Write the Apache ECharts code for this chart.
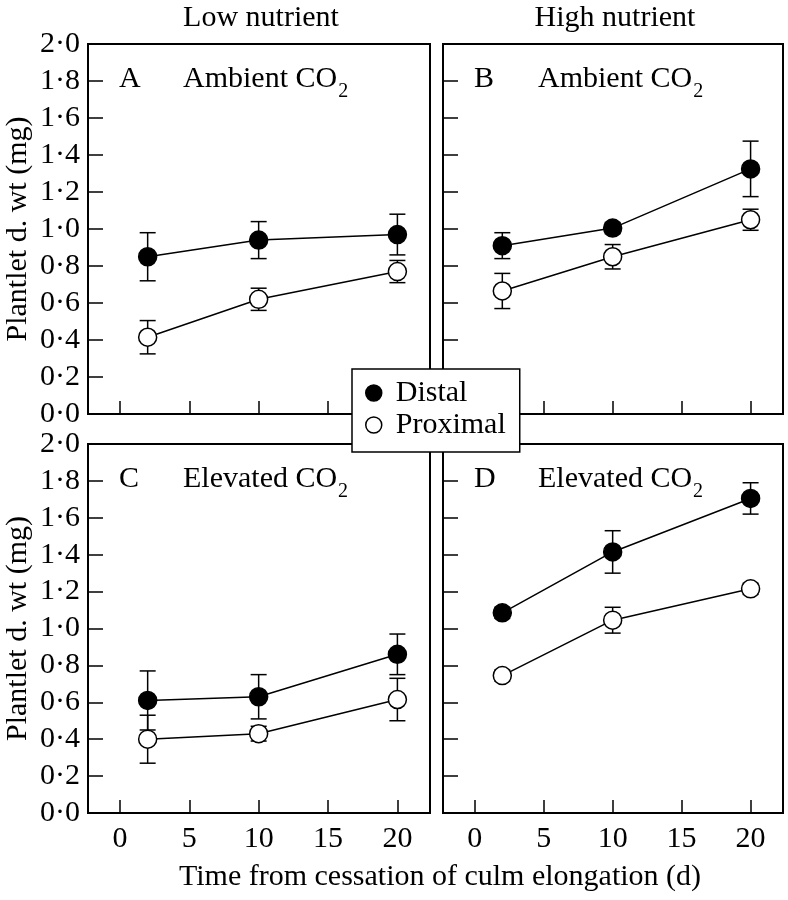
<!DOCTYPE html>
<html>
<head>
<meta charset="utf-8">
<script src="https://cdn.jsdelivr.net/npm/echarts@6/dist/echarts.min.js"></script>
<style>
html,body{margin:0;padding:0;background:#fff;}
#chart{width:788px;height:900px;}
</style>
</head>
<body>
<div id="chart"></div>
<script>
// ---- data ----
const days = [2, 10, 20];
const xTicks = [0, 5, 10, 15, 20];

const panelLetters = ['A', 'B', 'C', 'D'];
const panelCO2 = ['Ambient CO', 'Ambient CO', 'Elevated CO', 'Elevated CO'];
const columnTitles = ['Low nutrient', 'High nutrient'];
const seriesNames = ['Distal', 'Proximal'];
const yTitle = 'Plantlet d. wt (mg)';
const xTitle = 'Time from cessation of culm elongation (d)';

const distalA = [0.85, 0.94, 0.97];
const distalA_se = [0.13, 0.10, 0.11];
const proxA = [0.415, 0.62, 0.77];
const proxA_se = [0.09, 0.06, 0.06];

const distalB = [0.91, 1.005, 1.325];
const distalB_se = [0.07, 0.03, 0.15];
const proxB = [0.665, 0.85, 1.05];
const proxB_se = [0.095, 0.066, 0.057];

const distalC = [0.61, 0.63, 0.86];
const distalC_se = [0.16, 0.12, 0.11];
const proxC = [0.40, 0.43, 0.615];
const proxC_se = [0.13, 0.04, 0.115];

const distalD = [1.085, 1.415, 1.705];
const distalD_se = [0.03, 0.115, 0.085];
const proxD = [0.745, 1.045, 1.215];
const proxD_se = [0.03, 0.07, 0.03];

const distal = [distalA, distalB, distalC, distalD];
const distalSE = [distalA_se, distalB_se, distalC_se, distalD_se];
const prox = [proxA, proxB, proxC, proxD];
const proxSE = [proxA_se, proxB_se, proxC_se, proxD_se];

// ---- layout / style ----
const FONT = 'Liberation Serif';
const FS = 30;
const SUBFS = 20;
const grids = [
  {left: 88, top: 44, width: 342, height: 370},
  {left: 443, top: 44, width: 340, height: 370},
  {left: 88, top: 444, width: 342, height: 369},
  {left: 443, top: 444, width: 340, height: 369}
];

const measureCtx = document.createElement('canvas').getContext('2d');
function textWidth(str, size) {
  measureCtx.font = size + 'px "' + FONT + '"';
  return measureCtx.measureText(str).width;
}

const chart = echarts.init(document.getElementById('chart'), null, {renderer: 'canvas'});

const xAxes = [], yAxes = [], series = [], graphics = [];
grids.forEach((g, i) => {
  const bottomRow = i >= 2;
  const leftCol = i % 2 === 0;
  xAxes.push({
    type: 'value', gridIndex: i, min: -2.3, max: 22.35,
    splitLine: {show: false},
    axisLine: {show: true, onZero: false, lineStyle: {color: '#000', width: 2}},
    axisTick: {show: true, inside: true, length: 13, customValues: xTicks, lineStyle: {color: '#000', width: 1.5}},
    axisLabel: {show: bottomRow, customValues: xTicks, margin: 11, color: '#000', fontFamily: FONT, fontSize: FS}
  });
  yAxes.push({
    type: 'value', gridIndex: i, min: 0, max: 2, interval: 0.2,
    splitLine: {show: false},
    axisLine: {show: true, onZero: false, lineStyle: {color: '#000', width: 2}},
    axisTick: {show: true, inside: true, length: 15, lineStyle: {color: '#000', width: 1.5}},
    axisLabel: {show: leftCol, margin: 8, color: '#000', fontFamily: FONT, fontSize: FS,
      formatter: v => v.toFixed(1).replace('.', '\u00B7')},
    name: leftCol ? yTitle : '', nameLocation: 'middle', nameGap: 55,
    nameTextStyle: {color: '#000', fontFamily: FONT, fontSize: FS}
  });

  const groups = [
    {name: seriesNames[0], vals: distal[i], se: distalSE[i], fill: '#000'},
    {name: seriesNames[1], vals: prox[i], se: proxSE[i], fill: '#fff'}
  ];
  groups.forEach(grp => {
    series.push({
      type: 'custom', name: grp.name + ' SE', xAxisIndex: i, yAxisIndex: i, z: 2,
      data: days.map((d, k) => [d, grp.vals[k], grp.se[k]]),
      renderItem: function (params, api) {
        const x = api.value(0), y = api.value(1), e = api.value(2);
        const t = api.coord([x, y + e]);
        const b = api.coord([x, y - e]);
        const hw = 8;
        const st = {stroke: '#000', lineWidth: 1.5};
        return {type: 'group', children: [
          {type: 'line', shape: {x1: t[0], y1: t[1], x2: b[0], y2: b[1]}, style: st},
          {type: 'line', shape: {x1: t[0] - hw, y1: t[1], x2: t[0] + hw, y2: t[1]}, style: st},
          {type: 'line', shape: {x1: b[0] - hw, y1: b[1], x2: b[0] + hw, y2: b[1]}, style: st}
        ]};
      },
      silent: true
    });
  });
  groups.forEach((grp, gi) => {
    series.push({
      type: 'line', name: grp.name, xAxisIndex: i, yAxisIndex: i, z: 3 + gi,
      data: days.map((d, k) => [d, grp.vals[k]]),
      symbol: 'circle', symbolSize: 18, showAllSymbol: true,
      lineStyle: {color: '#000', width: 1.5},
      itemStyle: {color: grp.fill, borderColor: '#000', borderWidth: 1.5},
      emphasis: {disabled: true}
    });
  });

  // panel labels
  const ty = g.top + 35;
  graphics.push({
    type: 'text', x: g.left + 31, y: ty, z: 20,
    style: {text: panelLetters[i], font: `${FS}px "${FONT}"`, fill: '#000', verticalAlign: 'middle'}
  });
  const tx = g.left + 95;
  graphics.push({
    type: 'text', x: tx, y: ty, z: 20,
    style: {text: panelCO2[i], font: `${FS}px "${FONT}"`, fill: '#000', verticalAlign: 'middle'}
  });
  graphics.push({
    type: 'text', x: tx + textWidth(panelCO2[i], FS) + 1, y: ty + 13, z: 20,
    style: {text: '2', font: `${SUBFS}px "${FONT}"`, fill: '#000', verticalAlign: 'middle'}
  });
});

// column titles
[0, 1].forEach(c => {
  const g = grids[c];
  graphics.push({
    type: 'text', x: g.left + g.width / 2 + 2, y: 18, z: 20,
    style: {text: columnTitles[c], font: `${FS}px "${FONT}"`, fill: '#000', align: 'center', verticalAlign: 'middle'}
  });
});
// x title
graphics.push({
  type: 'text', x: 440, y: 877, z: 20,
  style: {text: xTitle, font: `${FS}px "${FONT}"`, fill: '#000', align: 'center', verticalAlign: 'middle'}
});

const option = {
  animation: false,
  backgroundColor: '#fff',
  grid: grids.map(g => Object.assign({show: true, borderColor: '#000', borderWidth: 2, backgroundColor: 'transparent'}, g)),
  xAxis: xAxes,
  yAxis: yAxes,
  legend: {
    orient: 'vertical', left: 352, top: 369, z: 30,
    backgroundColor: '#fff', borderColor: '#000', borderWidth: 1.5,
    padding: [9, 14, 12, 13], itemGap: 2, itemWidth: 16, itemHeight: 16,
    icon: 'circle', selectedMode: false,
    textStyle: {fontFamily: FONT, fontSize: FS, lineHeight: 30, color: '#000', padding: [0, 0, 0, 9]},
    data: [
      {name: seriesNames[0], itemStyle: {color: '#000', borderColor: '#000', borderWidth: 1.5}},
      {name: seriesNames[1], itemStyle: {color: '#fff', borderColor: '#000', borderWidth: 1.5}}
    ]
  },
  graphic: graphics,
  series: series
};
chart.setOption(option);
</script>
</body>
</html>
